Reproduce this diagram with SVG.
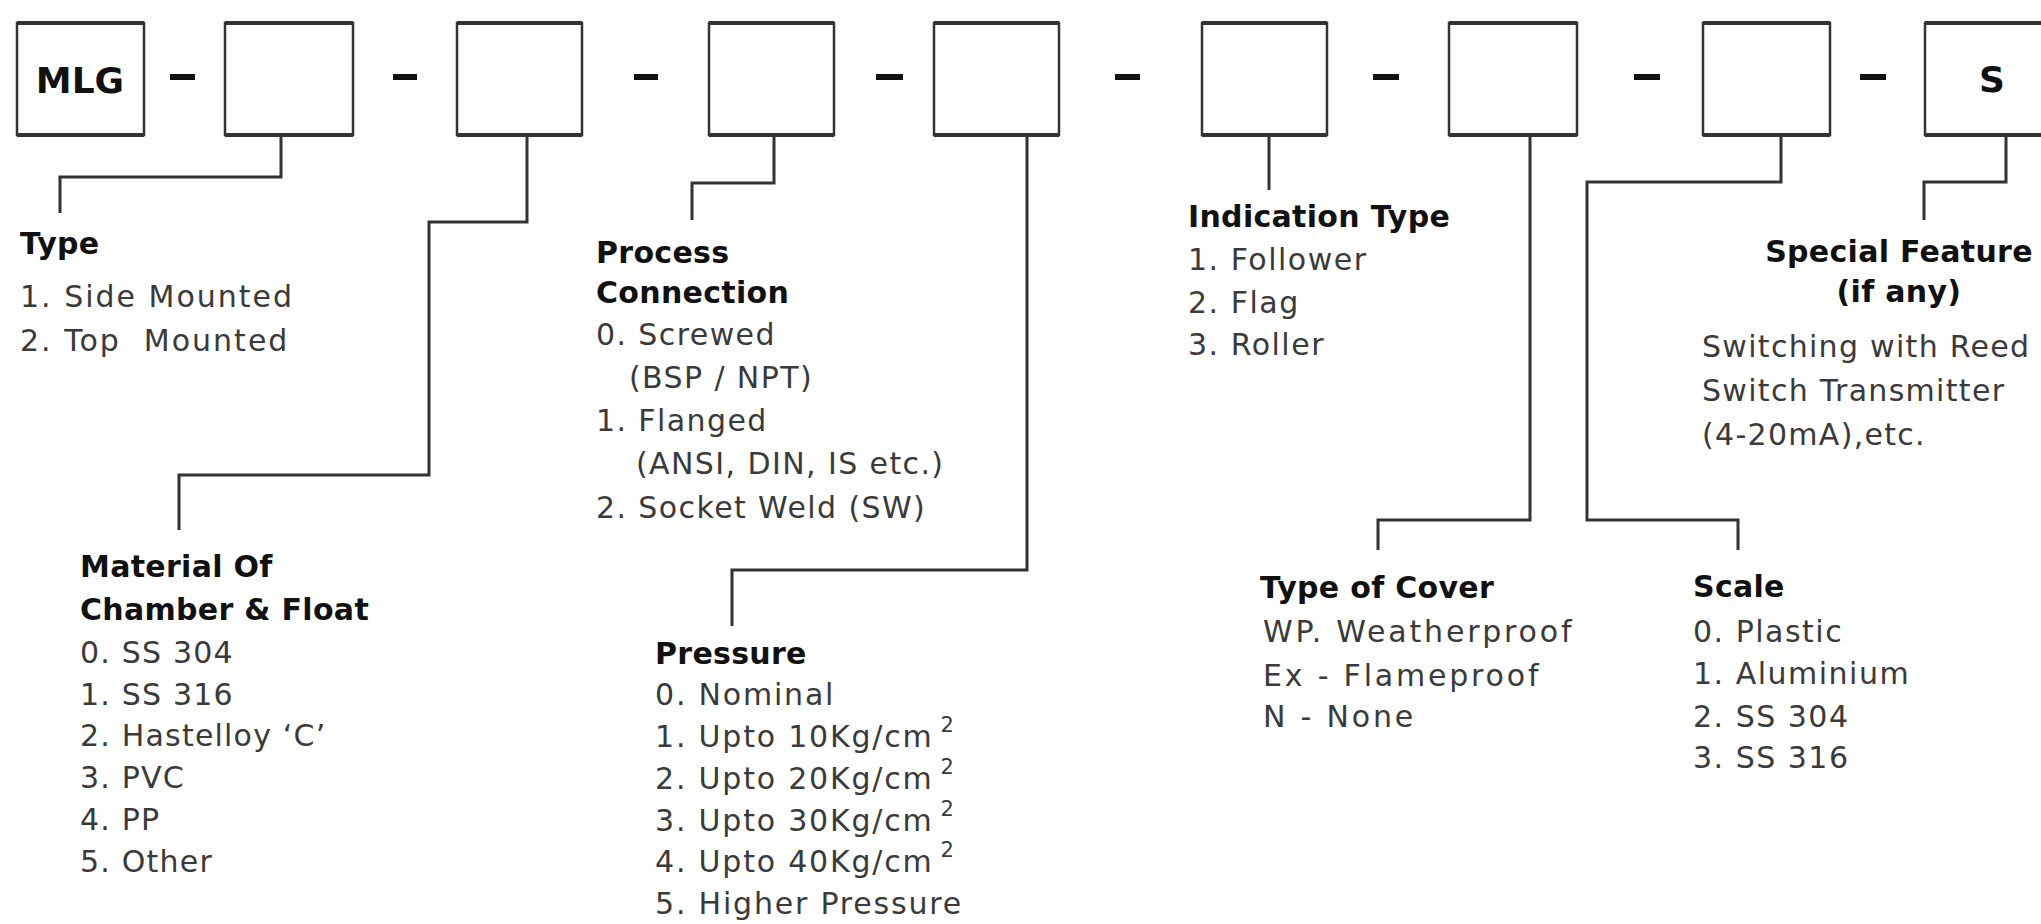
<svg xmlns="http://www.w3.org/2000/svg" width="2041" height="924" viewBox="0 0 2041 924">
<style>
.box{fill:#fff;stroke:#333;stroke-width:2.5}
.edge{fill:none;stroke:#333;stroke-width:4}
.dash{stroke:#111;stroke-width:6}
.conn{fill:none;stroke:#333;stroke-width:3}
.code{font-family:"DejaVu Sans",sans-serif;font-weight:bold;font-size:36px;fill:#111}
.h{font-family:"DejaVu Sans",sans-serif;font-weight:bold;font-size:30px;fill:#111;letter-spacing:0.3px}
.t{font-family:"DejaVu Sans",sans-serif;font-size:30px;fill:#3a3a3a;white-space:pre}
.sup{font-size:21px}
</style>
<rect width="2041" height="924" fill="#fff"/>
<g id="code-row">
  <g id="box-mlg"><rect class="box" x="17" y="23" width="127" height="112"/><path class="edge" d="M17 23H144M17 135H144"/><text class="code" x="80" y="93" text-anchor="middle">MLG</text></g>
  <g id="box-type"><rect class="box" x="225" y="23" width="128" height="112"/><path class="edge" d="M225 23H353M225 135H353"/></g>
  <g id="box-material"><rect class="box" x="457" y="23" width="125" height="112"/><path class="edge" d="M457 23H582M457 135H582"/></g>
  <g id="box-process"><rect class="box" x="709" y="23" width="125" height="112"/><path class="edge" d="M709 23H834M709 135H834"/></g>
  <g id="box-pressure"><rect class="box" x="934" y="23" width="125" height="112"/><path class="edge" d="M934 23H1059M934 135H1059"/></g>
  <g id="box-indication"><rect class="box" x="1202" y="23" width="125" height="112"/><path class="edge" d="M1202 23H1327M1202 135H1327"/></g>
  <g id="box-cover"><rect class="box" x="1449" y="23" width="128" height="112"/><path class="edge" d="M1449 23H1577M1449 135H1577"/></g>
  <g id="box-scale"><rect class="box" x="1703" y="23" width="127" height="112"/><path class="edge" d="M1703 23H1830M1703 135H1830"/></g>
  <g id="box-special"><rect class="box" x="1925" y="23" width="127" height="112"/><path class="edge" d="M1925 23H2052M1925 135H2052"/><text class="code" x="1992" y="92" text-anchor="middle">S</text></g>
  <g id="dashes">
    <path class="dash" d="M170 77H195M393 77H417M634 77H658M876 77H903M1115 77H1140M1373 77H1399M1634 77H1660M1860 77H1886"/>
  </g>
</g>
<g id="connectors">
  <path class="conn" d="M281 135V177H60V213"/>
  <path class="conn" d="M527 135V222H429V475H179V530"/>
  <path class="conn" d="M774 135V183H692V220"/>
  <path class="conn" d="M1027 135V570H732V626"/>
  <path class="conn" d="M1269 135V190"/>
  <path class="conn" d="M1530 135V520H1378V550"/>
  <path class="conn" d="M1781 135V182H1587V520H1738V550"/>
  <path class="conn" d="M2006 135V182H1924V220"/>
</g>
<g id="type">
  <text class="h" x="20" y="254">Type</text>
  <text class="t" x="20" y="307" style="letter-spacing:2px">1. Side Mounted</text>
  <text class="t" x="20" y="351" style="letter-spacing:2px">2. Top  Mounted</text>
</g>
<g id="material">
  <text class="h" x="80" y="577">Material Of</text>
  <text class="h" x="80" y="620">Chamber &amp; Float</text>
  <g style="letter-spacing:1.2px">
    <text class="t" x="80" y="663">0. SS 304</text>
    <text class="t" x="80" y="705">1. SS 316</text>
    <text class="t" x="80" y="746">2. Hastelloy ‘C’</text>
    <text class="t" x="80" y="788">3. PVC</text>
    <text class="t" x="80" y="830">4. PP</text>
    <text class="t" x="80" y="872">5. Other</text>
  </g>
</g>
<g id="process">
  <text class="h" x="596" y="263">Process</text>
  <text class="h" x="596" y="303">Connection</text>
  <g style="letter-spacing:1.4px">
    <text class="t" x="596" y="345">0. Screwed</text>
    <text class="t" x="629" y="388">(BSP / NPT)</text>
    <text class="t" x="596" y="431">1. Flanged</text>
    <text class="t" x="636" y="474">(ANSI, DIN, IS etc.)</text>
    <text class="t" x="596" y="518">2. Socket Weld (SW)</text>
  </g>
</g>
<g id="pressure">
  <text class="h" x="655" y="664">Pressure</text>
  <g style="letter-spacing:1.8px">
    <text class="t" x="655" y="705">0. Nominal</text>
    <text class="t" x="655" y="747">1. Upto 10Kg/cm<tspan class="sup" dx="7" dy="-15">2</tspan></text>
    <text class="t" x="655" y="789">2. Upto 20Kg/cm<tspan class="sup" dx="7" dy="-15">2</tspan></text>
    <text class="t" x="655" y="831">3. Upto 30Kg/cm<tspan class="sup" dx="7" dy="-15">2</tspan></text>
    <text class="t" x="655" y="872">4. Upto 40Kg/cm<tspan class="sup" dx="7" dy="-15">2</tspan></text>
    <text class="t" x="655" y="914">5. Higher Pressure</text>
  </g>
</g>
<g id="indication">
  <text class="h" x="1188" y="227">Indication Type</text>
  <g style="letter-spacing:1.5px">
    <text class="t" x="1188" y="270">1. Follower</text>
    <text class="t" x="1188" y="313">2. Flag</text>
    <text class="t" x="1188" y="355">3. Roller</text>
  </g>
</g>
<g id="cover">
  <text class="h" x="1260" y="598">Type of Cover</text>
  <g style="letter-spacing:2.8px">
    <text class="t" x="1263" y="642">WP. Weatherproof</text>
    <text class="t" x="1263" y="686">Ex - Flameproof</text>
    <text class="t" x="1263" y="727">N - None</text>
  </g>
</g>
<g id="scale">
  <text class="h" x="1693" y="597">Scale</text>
  <g style="letter-spacing:1.5px">
    <text class="t" x="1693" y="642">0. Plastic</text>
    <text class="t" x="1693" y="684">1. Aluminium</text>
    <text class="t" x="1693" y="727">2. SS 304</text>
    <text class="t" x="1693" y="768">3. SS 316</text>
  </g>
</g>
<g id="special">
  <text class="h" x="1899" y="262" text-anchor="middle">Special Feature</text>
  <text class="h" x="1899" y="302" text-anchor="middle">(if any)</text>
  <g style="letter-spacing:1.3px">
    <text class="t" x="1702" y="357">Switching with Reed</text>
    <text class="t" x="1702" y="401">Switch Transmitter</text>
    <text class="t" x="1702" y="445">(4-20mA),etc.</text>
  </g>
</g>
</svg>
